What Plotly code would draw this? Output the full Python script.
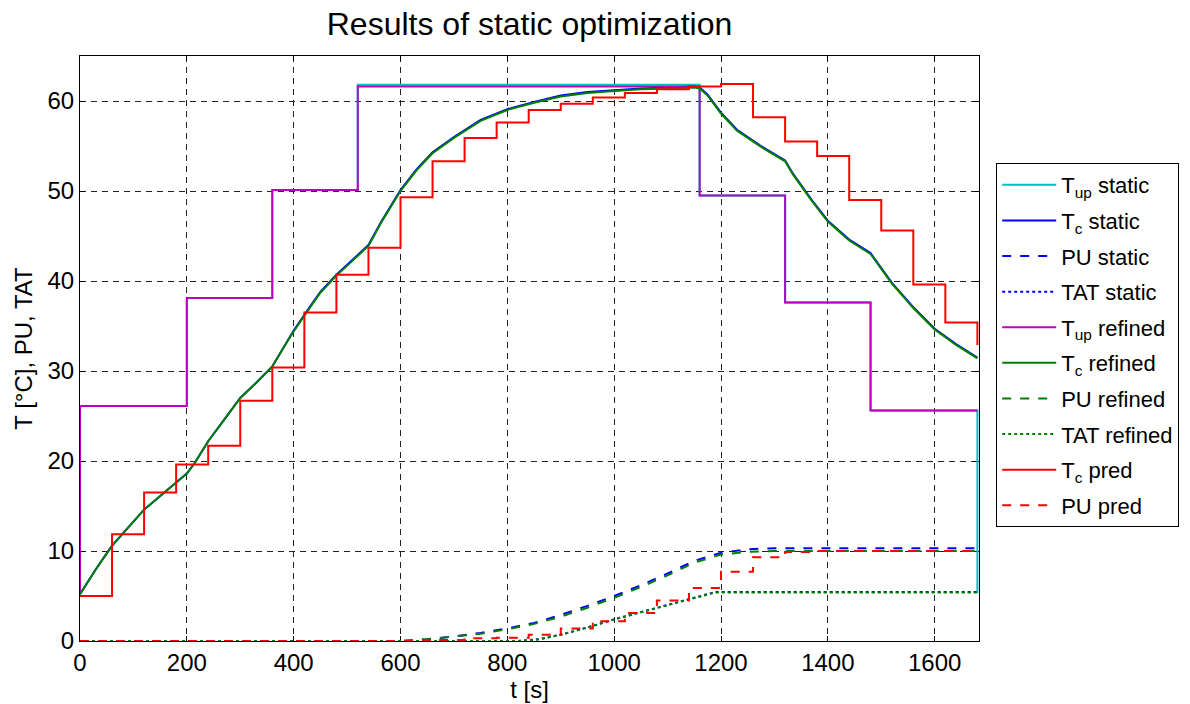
import plotly.graph_objects as go

# ---------------- data ----------------
# T_up step profiles (step start times, values; last point = end of horizon)
tup_t = [0, 0, 200, 360, 520, 1160, 1320, 1480, 1680, 1680]
tup_static = [5.2, 26.1, 38.1, 50.1, 61.8, 49.5, 37.6, 25.6, 25.6, 5.3]
tup_refined = [5.2, 26.1, 38.1, 50.1, 61.6, 49.5, 37.6, 25.6, 25.6, 25.6]

# T_c trajectories (smooth)
tc_t = [0, 30, 60, 120, 180, 200, 215, 240, 270, 300, 330, 360, 380, 400, 430, 450, 480,
        500, 520, 540, 565, 600, 630, 660, 700, 750, 800, 850, 900, 950, 1000, 1050,
        1100, 1150, 1160, 1175, 1200, 1230, 1275, 1320, 1335, 1370, 1400, 1440, 1480,
        1520, 1560, 1600, 1640, 1680]
tc_refined = [5.2, 8.0, 10.6, 14.6, 17.6, 18.6, 19.8, 22.2, 24.6, 27.0, 28.7, 30.5, 32.5,
              34.4, 37.0, 38.7, 40.6, 41.7, 42.7, 43.9, 46.6, 50.0, 52.3, 54.2, 55.9, 57.8,
              59.0, 59.8, 60.5, 60.9, 61.1, 61.3, 61.4, 61.5, 61.4, 60.6, 58.6, 56.7, 54.9,
              53.3, 51.8, 48.9, 46.6, 44.5, 43.0, 39.7, 37.0, 34.6, 32.9, 31.4]
tc_static = [5.2, 8.0, 10.6, 14.6, 17.6, 18.6, 19.8, 22.2, 24.6, 27.0, 28.7, 30.5, 32.5,
             34.5, 37.1, 38.8, 40.7, 41.8, 42.8, 44.0, 46.7, 50.1, 52.4, 54.3, 56.0, 57.9,
             59.1, 59.9, 60.6, 61.0, 61.2, 61.4, 61.5, 61.6, 61.5, 60.7, 58.7, 56.8, 55.0,
             53.4, 51.9, 49.0, 46.7, 44.6, 43.1, 39.8, 37.1, 34.7, 33.0, 31.5]

# PU / TAT trajectories
pu_t = [0, 600, 650, 700, 750, 800, 850, 900, 950, 1000, 1050, 1100, 1150, 1200, 1250,
        1300, 1350, 1680]
pu_static = [0, 0, 0.2, 0.5, 0.9, 1.4, 2.0, 2.9, 3.9, 5.0, 6.2, 7.5, 8.9, 9.8, 10.2,
             10.3, 10.3, 10.3]
pu_refined = [0, 0, 0.2, 0.5, 0.8, 1.3, 1.9, 2.7, 3.7, 4.8, 6.0, 7.3, 8.7, 9.6, 9.9,
              10.0, 10.0, 10.0]
tat_t = [0, 820, 860, 900, 950, 1000, 1050, 1100, 1150, 1190, 1680]
tat_static = [0, 0, 0.2, 0.7, 1.5, 2.4, 3.2, 4.0, 4.8, 5.45, 5.45]
tat_refined = [0, 0, 0.2, 0.7, 1.5, 2.4, 3.2, 4.0, 4.8, 5.4, 5.4]

# Predicted (MPC) step signals, 60 s sampling
pred_t = [0, 60, 120, 180, 240, 300, 360, 420, 480, 540, 600, 660, 720, 780, 840, 900,
          960, 1020, 1080, 1140, 1200, 1260, 1320, 1380, 1440, 1500, 1560, 1620, 1680, 1680]
tc_pred = [5.0, 11.85, 16.5, 19.6, 21.7, 26.7, 30.4, 36.5, 40.7, 43.7, 49.3, 53.3, 55.9,
           57.6, 59.0, 59.7, 60.4, 60.9, 61.3, 61.6, 61.9, 58.2, 55.5, 53.9, 49.0, 45.6,
           39.6, 35.4, 35.4, 32.9]
pu_pred = [0, 0, 0, 0, 0, 0, 0, 0, 0, 0, 0, 0.1, 0.3, 0.35, 0.7, 1.4, 2.2, 3.1, 4.5, 5.9,
           7.7, 9.3, 9.9, 10.0, 10.0, 10.0, 10.0, 10.0, 10.0, 10.0]

x_ticks = [0, 200, 400, 600, 800, 1000, 1200, 1400, 1600]
y_ticks = [0, 10, 20, 30, 40, 50, 60]

# ---------------- figure ----------------
CYAN = "#00BFBF"
BLUE = "#0000FF"
MAG = "#BF00BF"
GREEN = "#007F00"
RED = "#FF0000"

traces = [
    (tup_t, tup_static, "T<sub>up</sub> static", CYAN, "solid", "hv"),
    (tc_t, tc_static, "T<sub>c</sub> static", BLUE, "solid", "linear"),
    (pu_t, pu_static, "PU static", BLUE, "dash", "linear"),
    (tat_t, tat_static, "TAT static", BLUE, "dot", "linear"),
    (tup_t, tup_refined, "T<sub>up</sub> refined", MAG, "solid", "hv"),
    (tc_t, tc_refined, "T<sub>c</sub> refined", GREEN, "solid", "linear"),
    (pu_t, pu_refined, "PU refined", GREEN, "dash", "linear"),
    (tat_t, tat_refined, "TAT refined", GREEN, "dot", "linear"),
    (pred_t, tc_pred, "T<sub>c</sub> pred", RED, "solid", "hv"),
    (pred_t, pu_pred, "PU pred", RED, "dash", "hv"),
]

fig = go.Figure()
for i, (x, y, name, col, dash, shape) in enumerate(traces):
    fig.add_trace(go.Scatter(
        x=x, y=y, name=name, mode="lines",
        line=dict(color=col, width=2, dash=dash, shape=shape),
        legendgroup=f"g{i}",
    ))

FONT = "Liberation Sans, Arial, sans-serif"
axis_common = dict(
    showline=True, linecolor="black", linewidth=1, mirror="ticks",
    ticks="inside", ticklen=5, tickcolor="black",
    showgrid=True, gridcolor="#222222", gridwidth=1, griddash="6px,5px",
    zeroline=False, layer="below traces",
    tickfont=dict(family=FONT, size=24, color="black"),
)

fig.update_layout(
    width=1190, height=704,
    paper_bgcolor="white", plot_bgcolor="white",
    margin=dict(l=80, r=210, t=56, b=63),
    title=dict(text="Results of static optimization", xref="paper", x=0.5,
               xanchor="center", y=0.966, yanchor="middle",
               font=dict(family=FONT, size=32, color="black")),
    xaxis=dict(range=[0, 1683], tickvals=x_ticks,
               title=dict(text="t [s]", font=dict(family=FONT, size=24, color="black"),
                          standoff=0),
               **axis_common),
    yaxis=dict(range=[0, 65], tickvals=y_ticks,
               title=dict(text="T [°C], PU, TAT", font=dict(family=FONT, size=24, color="black"),
                          standoff=8),
               **axis_common),
    legend=dict(x=1.018, y=0.817, xanchor="left", yanchor="top",
                bordercolor="black", borderwidth=1, bgcolor="white",
                font=dict(family=FONT, size=22, color="black"),
                tracegroupgap=4, itemwidth=54, traceorder="grouped"),
    showlegend=True,
)

fig.write_html("out.html")
